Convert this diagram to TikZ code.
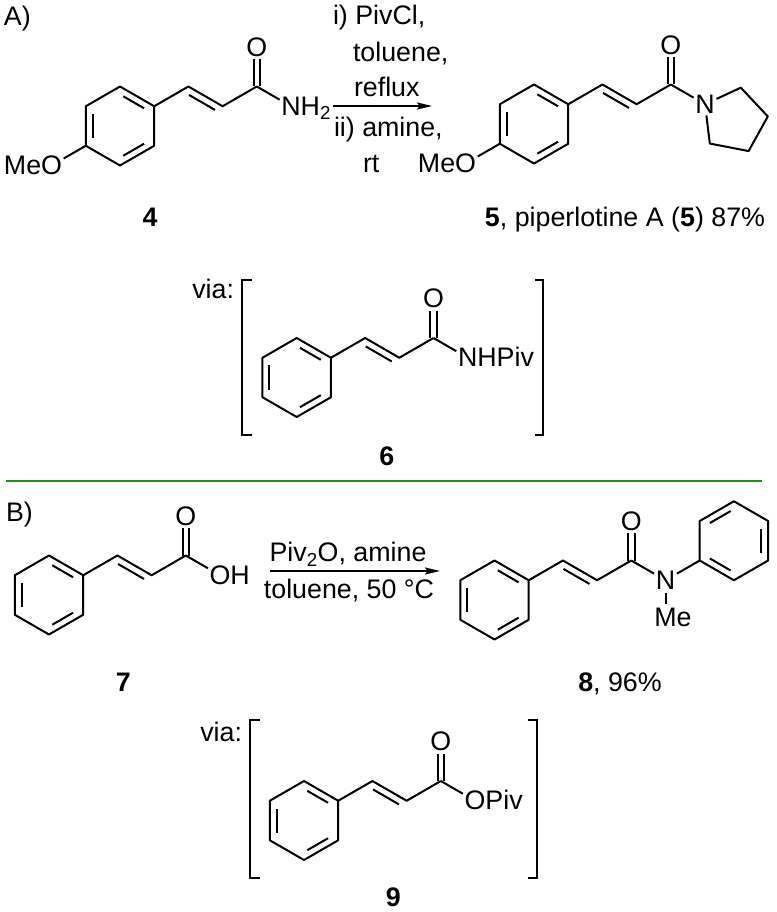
\documentclass[tikz,border=0pt]{standalone}
\usepackage{fontspec}
\setmainfont{Liberation Sans}
\usetikzlibrary{calc,arrows.meta}
\definecolor{divgreen}{RGB}{34,139,34}

% benzene ring: name, centre, which Kekule set (0 or 1)
\newcommand{\benzring}[3]{%
	\coordinate (#1c) at #2;
	\foreach \k in {1,...,6}
		\coordinate (#1-\k) at ($(#1c)+({-150+60*\k}:39.5)$);
	\draw (#1-1) -- (#1-2) -- (#1-3) -- (#1-4) -- (#1-5) -- (#1-6) -- cycle;
	\ifnum#3=0\relax
		\foreach \a/\b in {1/2,3/4,5/6}
			\draw ($(#1-\a)!.12!(#1-\b)!.2!(#1c)$) -- ($(#1-\b)!.12!(#1-\a)!.2!(#1c)$);
	\else
		\foreach \a/\b in {2/3,4/5,6/1}
			\draw ($(#1-\a)!.12!(#1-\b)!.2!(#1c)$) -- ($(#1-\b)!.12!(#1-\a)!.2!(#1c)$);
	\fi
}

% CH=CH-C(=O) chain: compound number, ring atom it starts from
\newcommand{\enone}[2]{%
	\coordinate (ca#1) at ($(#2)+(34.2,-19.75)$);
	\coordinate (cb#1) at ($(ca#1)+(34.2,19.75)$);
	\coordinate (cc#1) at ($(cb#1)+(34.2,-19.75)$);
	\node[atom] (o#1) at ($(cc#1)+(0,-39.5)$) {O};
	\draw (#2) -- (ca#1) -- (cb#1) -- (cc#1);
	\draw ($(ca#1)!.12!(cb#1)!7pt!-90:(cb#1)$) -- ($(cb#1)!.12!(ca#1)!7pt!90:(ca#1)$);
	\draw[shorten >=3pt] ([xshift=-3.3pt]cc#1) -- ([xshift=-3.3pt]o#1.south);
	\draw[shorten >=3pt] ([xshift=3.3pt]cc#1) -- ([xshift=3.3pt]o#1.south);
}

\begin{document}
\begin{tikzpicture}[x=1pt, y=-1pt, line width=2pt, line join=round,
	font=\fontsize{26.8}{32}\selectfont,
	atom/.style={inner sep=0pt, outer sep=0pt},
	txt/.style={inner sep=0pt, anchor=base},
	bracket/.style={line join=miter},
	rxn/.style={-{Stealth[length=15pt, width=7pt, inset=2.5pt]}}]
	\useasboundingbox (0,0) rectangle (776,912);
	
	% A) amide 4
	\node[txt, anchor=base west] (labA) at (3,26) {A)};
	\benzring{r4}{(120,126)}{0}
	\enone{4}{r4-2}
	\node[atom] (n4) at ($(cc4)+(34.2,19.75)$) {N};
	\node[atom, anchor=base west] (h4) at (n4.base east) {H\textsubscript{2}};
	\draw[shorten >=2pt] (cc4) -- (n4);
	\node[atom] (om4) at ($(r4-5)+(-34.2,19.75)$) {O};
	\node[atom, anchor=base east] (me4) at (om4.base west) {Me};
	\draw[shorten >=2pt] (r4-5) -- (om4);
	\node[txt] (cmp4) at (150,226.7) {\textbf{4}};
	
	% conditions A
	\node[txt, anchor=base west] (condA1) at (332,25) {i) PivCl,};
	\node[txt, anchor=base west] (condA2) at (352,61.5) {toluene,};
	\node[txt, anchor=base west] (condA3) at (353,97) {reflux};
	\node[txt, anchor=base west] (condA4) at (333,137) {ii) amine,};
	\node[txt, anchor=base west] (condA5) at (362,173) {rt};
	\coordinate (arrA1) at (333,106);
	\coordinate (arrA2) at (432,106);
	\draw[rxn] (arrA1) -- (arrA2);
	
	% product 5
	\benzring{r5}{(534,124)}{0}
	\enone{5}{r5-2}
	\node[atom] (n5) at ($(cc5)+(34.2,19.75)$) {N};
	\draw[shorten >=2pt] (cc5) -- (n5);
	\coordinate (p5-1) at ($(n5)+(35.8,-16.6)$);
	\coordinate (p5-2) at ($(n5)+(62.8,12.2)$);
	\coordinate (p5-3) at ($(n5)+(43.6,46.8)$);
	\coordinate (p5-4) at ($(n5)+(4.8,39.3)$);
	\draw[shorten <=2pt, shorten >=2pt] (n5) -- (p5-1) -- (p5-2) -- (p5-3) -- (p5-4) -- (n5);
	\node[atom] (om5) at ($(r5-5)+(-34.2,19.75)$) {O};
	\node[atom, anchor=base east] (me5) at (om5.base west) {Me};
	\draw[shorten >=2pt] (r5-5) -- (om5);
	\node[txt] (cmp5) at (625,226.7) {\textbf{5}, piperlotine A (\textbf{5}) 87\%};
	
	% via 6
	\node[txt, anchor=base east] (viaA) at (235,298.3) {via:};
	\draw[bracket] (251.7,280) -- (241.7,280) -- (241.7,435) -- (251.7,435);
	\draw[bracket] (535,280) -- (543.3,280) -- (543.3,435) -- (535,435);
	\benzring{r6}{(296.7,377.5)}{0}
	\enone{6}{r6-2}
	\node[atom] (n6) at ($(cc6)+(34.2,19.75)$) {N};
	\node[atom, anchor=base west] (piv6) at (n6.base east) {HPiv};
	\draw[shorten >=2pt] (cc6) -- (n6);
	\node[txt] (cmp6) at (386.7,465) {\textbf{6}};
	
	% divider
	\draw[divgreen, line width=2pt] (6,481) -- (762,481);
	
	% B) acid 7
	\node[txt, anchor=base west] (labB) at (5,521.7) {B)};
	\benzring{r7}{(49,595)}{0}
	\enone{7}{r7-2}
	\node[atom] (oh7) at ($(cc7)+(34.2,19.75)$) {O};
	\node[atom, anchor=base west] (h7) at (oh7.base east) {H};
	\draw[shorten >=2pt] (cc7) -- (oh7);
	\node[txt] (cmp7) at (123.3,691.7) {\textbf{7}};
	
	% conditions B
	\coordinate (arrB1) at (270,571);
	\coordinate (arrB2) at (440,571);
	\draw[rxn] (arrB1) -- (arrB2);
	\node[txt] (condB1) at (348,561.7) {Piv\textsubscript{2}O, amine};
	\node[txt] (condB2) at (349,598.3) {toluene, 50 °C};
	
	% product 8
	\benzring{r8}{(494.5,600)}{0}
	\enone{8}{r8-2}
	\node[atom] (n8) at ($(cc8)+(34.2,19.75)$) {N};
	\draw[shorten >=2pt] (cc8) -- (n8);
	\benzring{q8}{($(n8)+(68.4,-39.5)$)}{1}
	\draw[shorten <=2pt] (n8) -- (q8-5);
	\node[atom, anchor=base west] (me8) at (654.3,626.7) {Me};
	\draw[shorten <=4pt, shorten >=4pt] (n8.south) -- (n8.south |- me8.north);
	\node[txt] (cmp8) at (620,691.7) {\textbf{8}, 96\%};
	
	% via 9
	\node[txt, anchor=base east] (viaB) at (243,741.7) {via:};
	\draw[bracket] (260,720) -- (250,720) -- (250,878) -- (260,878);
	\draw[bracket] (528.3,720) -- (536.7,720) -- (536.7,878) -- (528.3,878);
	\benzring{r9}{(304,820.5)}{0}
	\enone{9}{r9-2}
	\node[atom] (oe9) at ($(cc9)+(34.2,19.75)$) {O};
	\node[atom, anchor=base west] (piv9) at (oe9.base east) {Piv};
	\draw[shorten >=2pt] (cc9) -- (oe9);
	\node[txt] (cmp9) at (393.3,906.5) {\textbf{9}};
\end{tikzpicture}
\end{document}
